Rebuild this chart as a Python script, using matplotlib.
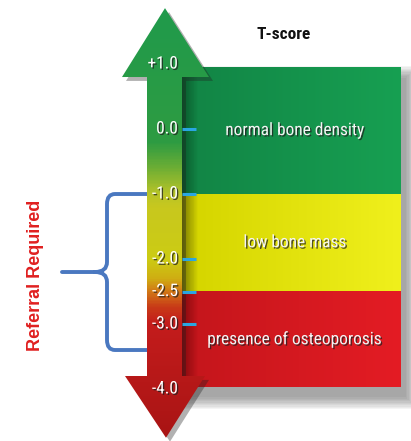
import numpy as np
import matplotlib
matplotlib.use('Agg')
import matplotlib.pyplot as plt
import matplotlib.patheffects as pe
from matplotlib.colors import LinearSegmentedColormap
from matplotlib.patches import Polygon, Rectangle, PathPatch
from matplotlib.path import Path

plt.rcParams['font.family'] = ['Roboto Condensed', 'Archivo Narrow', 'DejaVu Sans']

# data
tick_values = [1.0, 0.0, -1.0, -2.0, -2.5, -3.0, -4.0]
tick_labels = ['+1.0', '0.0', '-1.0', '-2.0', '-2.5', '-3.0', '-4.0']
zone_names = ['normal bone density', 'low bone mass', 'presence of osteoporosis']
zone_top = [0.95, -1.0, -2.5]
zone_bottom = [-1.0, -2.5, -3.97]
zone_colors = [('#0a5a2c', '#128646', '#17a052'),
               ('#7c7c00', '#d6d600', '#f0f01c'),
               ('#860a0e', '#c6161c', '#e41c24')]
referral_range = [-1.0, -3.4]
# colour of the arrow shaft along the T-score scale
shaft_T = [-4.8, -3.0, -2.75, -2.5, -2.3, -2.0, -1.2, -1.0, -0.6, -0.2, 1.985]
shaft_col = ['#a81414', '#c41c1c', '#c83a18', '#d27a16', '#cfae12', '#cccc14',
             '#c8c81e', '#b8c428', '#6eae34', '#2e9c42', '#1f9a4c']

# layout in pixels (x) / T-score (y)
YMIN, YMAX = -4.8, 1.985
SHAFT_L, SHAFT_R = 147, 182
BOX_L, BOX_R = 182, 400

fig = plt.figure(figsize=(4.11, 4.41), dpi=100)
ax = fig.add_axes([0, 0, 1, 1])
ax.set_xlim(0, 411)
ax.set_ylim(YMIN, YMAX)
ax.set_axis_off()

txt_shadow = [pe.withSimplePatchShadow(offset=(1, -1), shadow_rgbFace='#202020', alpha=0.75)]

# soft shadow behind the boxes
for i in range(10):
    g = i * 1.3
    ax.add_patch(Rectangle((BOX_L + 6 - g, zone_bottom[-1] - 0.16 - g / 65),
                           BOX_R - BOX_L + 2 * g, zone_top[0] - zone_bottom[-1] + 2 * g / 65,
                           color='#303030', alpha=0.05, lw=0, zorder=1))

# boxes with horizontal gradient
for name, top, bot, cols in zip(zone_names, zone_top, zone_bottom, zone_colors):
    cmap = LinearSegmentedColormap.from_list(name, [(0, cols[0]), (0.07, cols[1]), (1, cols[2])])
    grad = np.linspace(0, 1, 200).reshape(1, -1)
    ax.imshow(grad, cmap=cmap, extent=[BOX_L, BOX_R, bot, top], aspect='auto',
              origin='lower', zorder=2, interpolation='bilinear')
    ax.text((BOX_L + BOX_R) / 2 + 4, (top + bot) / 2, name, color='#f4f4f4', fontsize=12.5,
            ha='center', va='center', zorder=6, path_effects=txt_shadow)

# arrow outline
arrow_pts = [(165, 1.86), (209, 0.80), (SHAFT_R, 0.80), (SHAFT_R, -3.8), (205, -3.8),
             (166, -4.75), (125, -3.8), (SHAFT_L, -3.8), (SHAFT_L, 0.80), (122, 0.80)]
shadow = Polygon([(x + 4, y - 0.06) for x, y in arrow_pts], closed=True,
                 color='#202020', alpha=0.35, lw=0, zorder=3)
ax.add_patch(shadow)
arrow = Polygon(arrow_pts, closed=True, facecolor='none', edgecolor='none', zorder=4)
ax.add_patch(arrow)
stops = [((t - YMIN) / (YMAX - YMIN), c) for t, c in zip(shaft_T, shaft_col)]
shaft_cmap = LinearSegmentedColormap.from_list('shaft', stops)
tv = np.linspace(0, 1, 400).reshape(-1, 1)
im = ax.imshow(tv, cmap=shaft_cmap, extent=[110, 220, YMIN, YMAX], aspect='auto',
               origin='lower', zorder=4, interpolation='bilinear')
im.set_clip_path(arrow)

# tick marks and labels
ax.hlines(tick_values[1:-1], SHAFT_R, 196, color='#2aa6e2', lw=2.2, zorder=5)
for v, lab in zip(tick_values, tick_labels):
    ax.text(SHAFT_R - 4, v, lab, color='white', fontsize=12.5, ha='right', va='center', zorder=6,
            path_effects=txt_shadow)

ax.text(284, (129 - 34) / 65, 'T-score', fontsize=12.5, fontweight='bold', color='#111111',
        ha='center', va='center', zorder=6)

# brace
top, bot = referral_range
mid = (top + bot) / 2
r = 10 / 65
verts = [(SHAFT_L + 3, top), (115, top), (107, top), (107, top - r),
         (107, mid + r), (107, mid), (95, mid), (62, mid),
         (95, mid), (107, mid), (107, mid - r),
         (107, bot + r), (107, bot), (115, bot), (SHAFT_L + 3, bot)]
codes = [Path.MOVETO, Path.LINETO, Path.CURVE3, Path.CURVE3,
         Path.LINETO, Path.CURVE3, Path.CURVE3, Path.LINETO,
         Path.MOVETO, Path.CURVE3, Path.CURVE3,
         Path.LINETO, Path.CURVE3, Path.CURVE3, Path.LINETO]
ax.add_patch(PathPatch(Path(verts, codes), facecolor='none', edgecolor='#4a78c0',
                       lw=2.8, capstyle='round', zorder=3))

ax.text(35, mid - 0.05, 'Referral Required', rotation=90, color='#e02020', fontsize=13,
        fontweight='bold', family=['Liberation Sans', 'DejaVu Sans'],
        ha='center', va='center', zorder=6)

fig.savefig('out.png', dpi=100)
